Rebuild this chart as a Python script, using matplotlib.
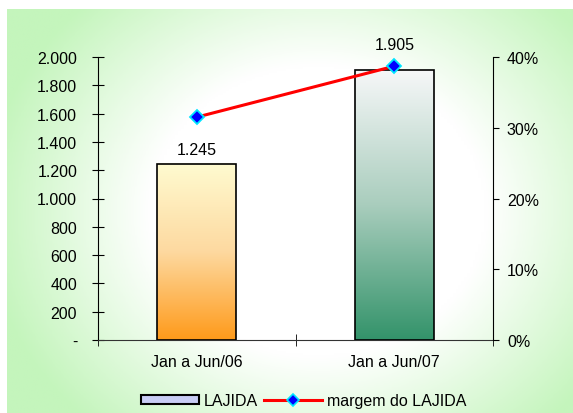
import numpy as np
import matplotlib
matplotlib.use("Agg")
import matplotlib.pyplot as plt
from matplotlib.colors import LinearSegmentedColormap
from matplotlib.ticker import FuncFormatter
from matplotlib.patches import Rectangle
from matplotlib.lines import Line2D

plt.rcParams['font.family'] = ['Liberation Sans', 'DejaVu Sans']
plt.rcParams['font.size'] = 11.5

# dados
periodos = ["Jan a Jun/06", "Jan a Jun/07"]
lajida = [1245, 1905]
margem = [0.315, 0.387]

fig = plt.figure(figsize=(5.73, 4.14), dpi=100)

# fundo com degradê verde
bg = fig.add_axes([7/573, 0, 1 - 7/573, 1 - 10/414])
bg.set_axis_off()
yy, xx = np.mgrid[0:1:200j, 0:1:200j]
r = np.sqrt(((xx - 0.55) / 0.7) ** 2 + ((yy - 0.5) / 0.85) ** 2)
cmap_bg = LinearSegmentedColormap.from_list("bg", ["#ffffff", "#ffffff", "#c4f5bc"])
bg.imshow(r, cmap=cmap_bg, vmin=0, vmax=0.85, aspect="auto", extent=[0, 1, 0, 1])
bg.set_xlim(0, 1)
bg.set_ylim(0, 1)

ax = fig.add_axes([98/573, 1 - 341/414, (493 - 98)/573, (341 - 58)/414])
ax.patch.set_alpha(0)
x = np.arange(len(periodos))
bars = ax.bar(x, lajida, width=0.4, facecolor="none", edgecolor="black", linewidth=1.2, zorder=3)

grad_cols = [["#ff9a1a", "#fdd9a0", "#fffbd0"], ["#33936a", "#a9cdbd", "#f6f7f8"]]
for b, cols in zip(bars, grad_cols):
    cm = LinearSegmentedColormap.from_list("g", cols)
    x0, w, h = b.get_x(), b.get_width(), b.get_height()
    g = np.linspace(0, 1, 256).reshape(-1, 1)
    ax.imshow(g, cmap=cm, origin="lower", aspect="auto",
              extent=[x0, x0 + w, 0, h], zorder=2)

ax.set_xlim(-0.5, 1.5)
ax.set_ylim(0, 2000)
ax.set_yticks(np.arange(0, 2001, 200))
ax.yaxis.set_major_formatter(FuncFormatter(
    lambda v, p: "-" if v == 0 else f"{int(v):,}".replace(",", ".")))
ax.set_xticks(x)
ax.set_xticklabels(periodos)
ax.set_xticks([-0.5, 0.5, 1.5], minor=True)
ax.tick_params(axis="x", which="major", length=0, pad=10)
ax.tick_params(axis="x", which="minor", direction="inout", length=8)
ax.tick_params(axis="y", direction="inout", length=8, pad=11)
for s in ["top", "right"]:
    ax.spines[s].set_visible(False)
ax.spines["bottom"].set_color("#333333")

offsets = [5, 13]
for b, v, off in zip(bars, lajida, offsets):
    ax.annotate(f"{v:,}".replace(",", "."), (b.get_x() + b.get_width() / 2, v),
                xytext=(0, off), textcoords="offset points",
                ha="center", va="bottom")

ax2 = ax.twinx()
ax2.set_ylim(0, 0.4)
ax2.set_yticks([0, 0.1, 0.2, 0.3, 0.4])
ax2.yaxis.set_major_formatter(FuncFormatter(lambda v, p: f"{v*100:.0f}%"))
ax2.tick_params(axis="y", direction="out", length=4, pad=6)
for s in ["top", "left", "bottom"]:
    ax2.spines[s].set_visible(False)
ax2.plot(x, margem, color="#ff0000", linewidth=2.2, marker="D", markersize=7,
         markerfacecolor="#0000ff", markeredgecolor="#00e5ff", markeredgewidth=1.3, zorder=5)
ax2.set_xlim(-0.5, 1.5)

handles = [
    Rectangle((0, 0), 1, 1, facecolor="#c8ccf5", edgecolor="black", linewidth=1.5),
    Line2D([0], [0], color="#ff0000", linewidth=2.2, marker="D", markersize=6,
           markerfacecolor="#0000ff", markeredgecolor="#00e5ff", markeredgewidth=1.2),
]
fig.legend(handles, ["LAJIDA", "margem do LAJIDA"], loc="center",
           bbox_to_anchor=(0.53, 1 - 402/414), ncol=2, frameon=False,
           handlelength=3.6, handleheight=0.5, handletextpad=0.3, columnspacing=0.4)

fig.savefig("out.png", dpi=100)
